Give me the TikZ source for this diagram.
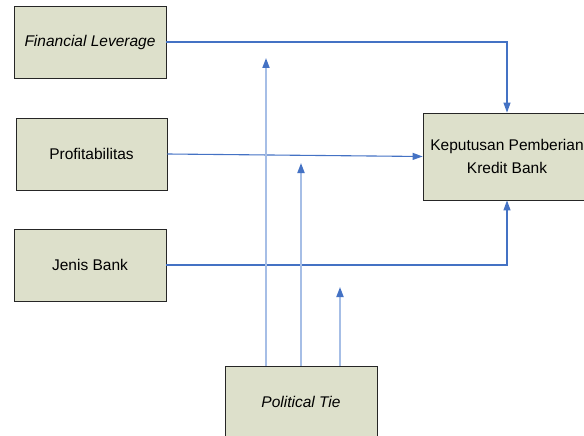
\documentclass[tikz,border=0pt]{standalone}
\usepackage{fontspec}
\setmainfont{Liberation Sans}
\usepackage{xcolor}
\usetikzlibrary{arrows.meta,shadows}

\definecolor{boxfill}{HTML}{DDE0CB}
\definecolor{linkblue}{HTML}{4472C4}
\definecolor{tieblue}{HTML}{A6BEE6}

\begin{document}
\begin{tikzpicture}[x=1pt,y=-1pt,
    varbox/.style={draw=black!85, fill=boxfill, line width=0.8pt,
        minimum width=152pt, minimum height=72pt, inner sep=0pt,
        align=center, font=\fontsize{15.5}{23}\selectfont,
        drop shadow={shadow xshift=1.2pt, shadow yshift=-1.2pt, fill=black!45, opacity=1}},
    link/.style={draw=linkblue, line width=1.1pt, -{Triangle[length=10pt,width=7pt]}},
    tie/.style={draw=tieblue, line width=1.8pt, -{Triangle[length=10pt,width=7pt,color=linkblue]}}]
    \useasboundingbox (0,0) rectangle (584,436);

    % Variables
    \node[varbox] (fl) at (90,42) {\textit{Financial Leverage}};
    \node[varbox, minimum width=151pt] (prof) at (91.5,154) {Profitabilitas};
    \node[varbox] (jb) at (90,265) {Jenis Bank};
    \node[varbox, minimum width=168pt, minimum height=87pt] (kpb) at (507,156.5) {Keputusan Pemberian\\Kredit Bank};
    \node[varbox] (pt) at (301,402) {\textit{Political Tie}};

    % Direct links
    \draw[link] (fl.east) -| (kpb.north);
    \draw[link] (prof.east) -- (kpb.west);
    \draw[link] (jb.east) -| (kpb.south);

    % Moderating links
    \coordinate (m1) at (266,58);
    \coordinate (m2) at (301,163);
    \coordinate (m3) at (340,287);
    \draw[tie] (pt.north -| m1) -- (m1);
    \draw[tie] (pt.north) -- (m2);
    \draw[tie] (pt.north -| m3) -- (m3);

\end{tikzpicture}
\end{document}
